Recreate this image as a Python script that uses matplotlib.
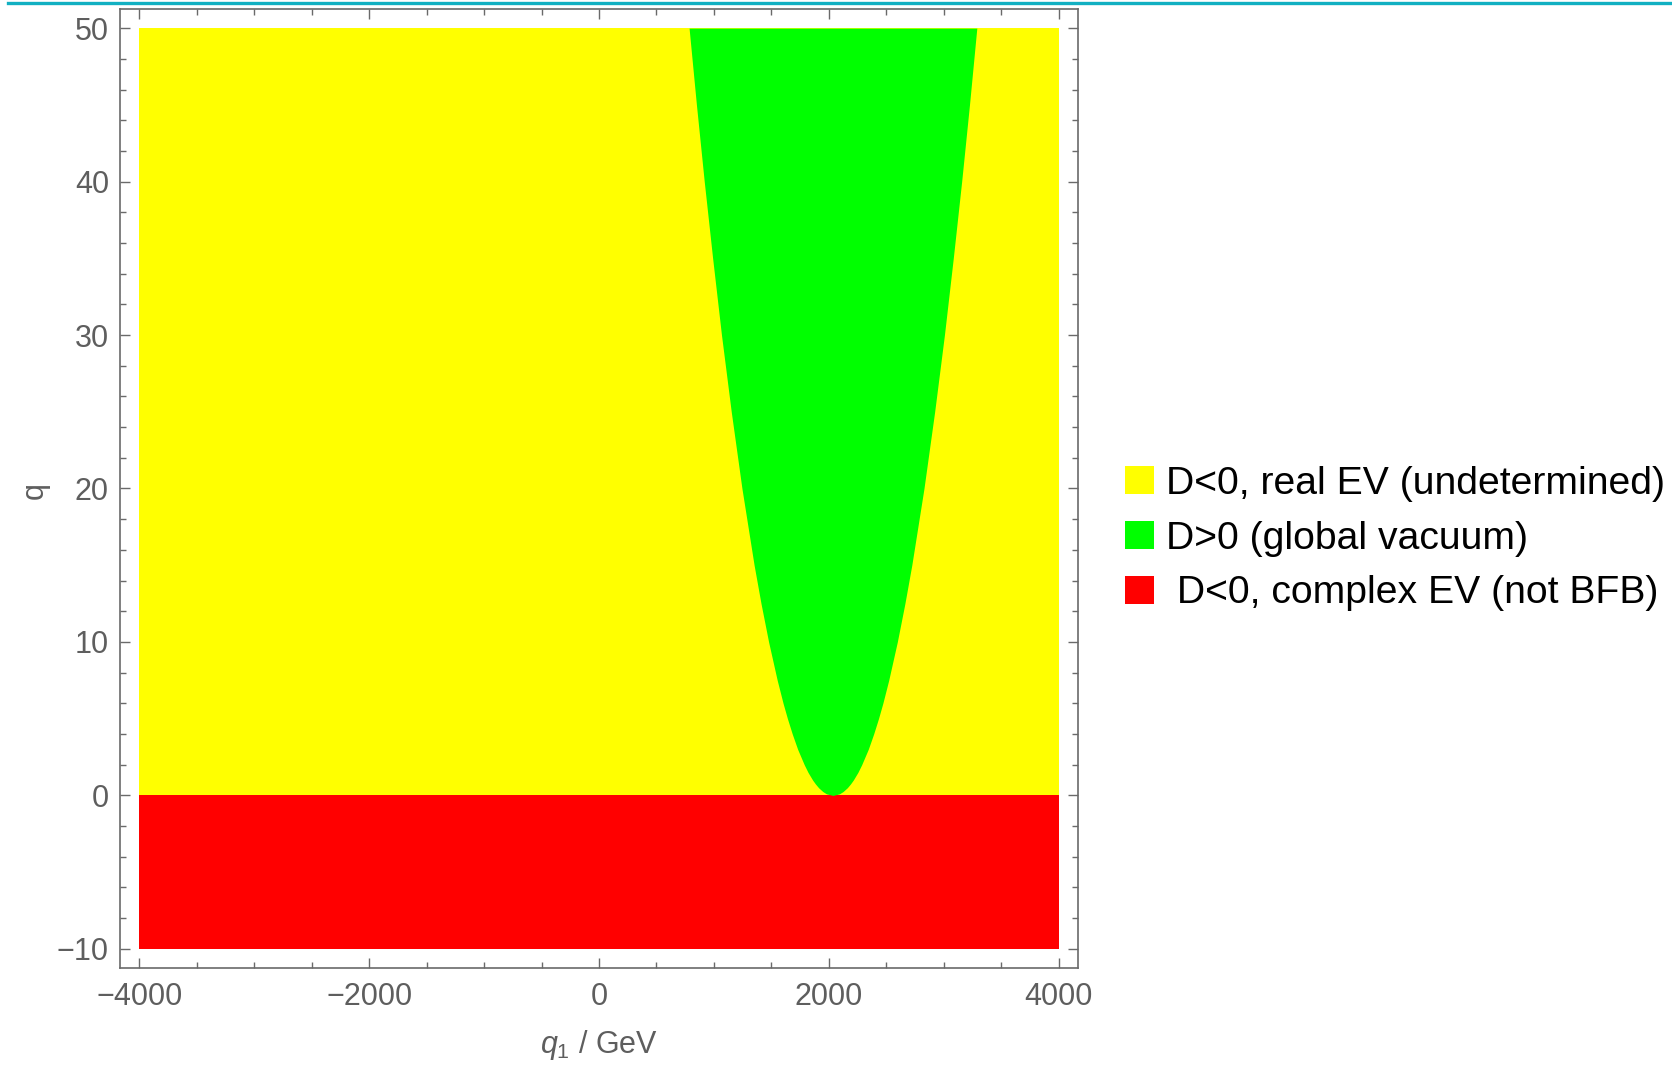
import matplotlib
matplotlib.use("Agg")
import matplotlib.pyplot as plt
from matplotlib.lines import Line2D
from matplotlib.patches import Patch
from matplotlib.ticker import MultipleLocator

plt.rcParams["font.family"] = ["Liberation Sans", "DejaVu Sans"]
plt.rcParams["mathtext.fontset"] = "custom"
plt.rcParams["mathtext.rm"] = "Liberation Sans"
plt.rcParams["mathtext.it"] = "Liberation Sans:italic"

# ------------------------------------------------------------------
# Region data
# ------------------------------------------------------------------
q1_range = [-4000, 4000]   # GeV
q_min, q_split, q_max = -10, 0, 50

# boundary of the D>0 region: q value and left/right edge in q1 (GeV)
green_q = [0, 0.1, 0.25, 0.5, 0.75, 1, 1.5, 2, 3, 4, 5, 6, 7.5, 10,
           12.5, 15, 20, 25, 30, 35, 40, 45, 50]
green_left = [2036, 1980, 1948, 1911, 1883, 1859, 1819, 1786, 1729, 1682,
              1640, 1602, 1551, 1476, 1410, 1350, 1244, 1151, 1066, 989,
              916, 848, 784]
green_right = [2036, 2092, 2124, 2161, 2189, 2213, 2253, 2286, 2343, 2390,
               2432, 2470, 2521, 2596, 2662, 2722, 2828, 2921, 3006, 3083,
               3156, 3224, 3288]

labels = [
    "D<0, real EV (undetermined)",
    "D>0 (global vacuum)",
    " D<0, complex EV (not BFB)",
]
colors = ["#ffff00", "#00ff00", "#ff0000"]

x_ticks = [-4000, -2000, 0, 2000, 4000]
y_ticks = [-10, 0, 10, 20, 30, 40, 50]

FRAME = "#6a6a6a"
TEXT = "#5e5e5e"
FS = 22

# ------------------------------------------------------------------
# Figure
# ------------------------------------------------------------------
fig = plt.figure(figsize=(16.72, 10.66), dpi=100)
ax = fig.add_axes([0.0718, 0.0919, 0.5729, 0.8997])

ax.fill_between(q1_range, q_split, q_max, color=colors[0], lw=0)
ax.fill_between(q1_range, q_min, q_split, color=colors[2], lw=0)
ax.fill_betweenx(green_q, green_left, green_right, color=colors[1], lw=0)

ax.set_xlim(-4168, 4168)
ax.set_ylim(-11.25, 51.25)
ax.set_xticks(x_ticks)
ax.set_yticks(y_ticks)
ax.xaxis.set_minor_locator(MultipleLocator(500))
ax.yaxis.set_minor_locator(MultipleLocator(2))

for spine in ax.spines.values():
    spine.set_color(FRAME)
    spine.set_linewidth(1.2)

ax.tick_params(which="both", direction="in", top=True, right=True,
               color=FRAME, width=1.0)
ax.tick_params(which="major", length=7.5, labelsize=FS, labelcolor=TEXT)
ax.tick_params(which="minor", length=4.5)
ax.tick_params(axis="y", which="major", pad=8)
ax.tick_params(axis="x", which="major", pad=10)

fig.text(0.0205, 0.540, "q", rotation=90, fontsize=FS, color=TEXT,
         ha="center", va="center")
fig.text(0.358, 0.0195, r"$q_1$ / GeV", fontsize=FS, color=TEXT,
         ha="center", va="center")

handles = [Patch(facecolor=c, edgecolor="none") for c in colors]
fig.legend(handles, labels, loc="upper left", bbox_to_anchor=(0.673, 0.563),
           frameon=False, fontsize=28.2, handlelength=0.74, handleheight=0.74,
           handletextpad=0.3, labelspacing=0.48, borderpad=0, borderaxespad=0)

# thin rule along the top edge of the page
fig.add_artist(Line2D([0.005, 1.0], [0.9972, 0.9972], transform=fig.transFigure,
                      color="#12b0c2", lw=2.4))

fig.savefig("out.png", dpi=100)
